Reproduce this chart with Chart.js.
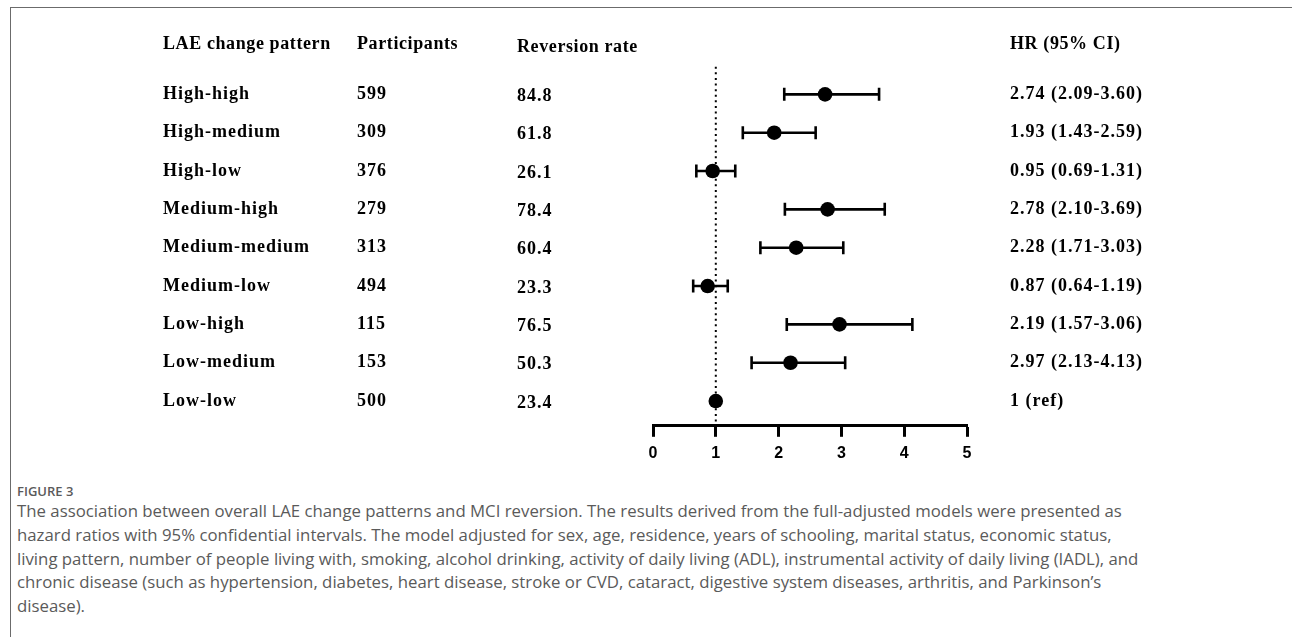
<!DOCTYPE html>
<html>
<head>
<meta charset="utf-8">
<script src="https://cdn.jsdelivr.net/npm/chart.js@4.4.1/dist/chart.umd.min.js"></script>
<style>
  body { margin: 0; background: #fff; width: 1292px; height: 637px; overflow: hidden; position: relative; }
  .frame { position: absolute; left: 10px; top: 7px; width: 1300px; height: 650px;
           border-top: 1.5px solid #6b6b6b; border-left: 1.5px solid #6b6b6b; }
  #plot { position: absolute; left: 0; top: 2px; }
  .fig-label { position: absolute; left: 17px; top: 482px; font-family: "Open Sans", sans-serif;
               font-size: 13px; line-height: 18px; color: #5a5a5a; font-weight: 600; }
  .caption { position: absolute; left: 17px; top: 499px; font-family: "Open Sans", sans-serif;
             font-size: 16.8px; line-height: 23.8px; color: #5a5a5a; white-space: nowrap; }
</style>
</head>
<body>
<div class="frame"></div>
<canvas id="plot" width="1292" height="478"></canvas>
<div class="fig-label">FIGURE 3</div>
<div class="caption">
The association between overall LAE change patterns and MCI reversion. The results derived from the full-adjusted models were presented as<br>
hazard ratios with 95% confidential intervals. The model adjusted for sex, age, residence, years of schooling, marital status, economic status,<br>
living pattern, number of people living with, smoking, alcohol drinking, activity of daily living (ADL), instrumental activity of daily living (IADL), and<br>
chronic disease (such as hypertension, diabetes, heart disease, stroke or CVD, cataract, digestive system diseases, arthritis, and Parkinson’s<br>
disease).
</div>
<script>
// table columns
const headers = ["LAE change pattern", "Participants", "Reversion rate", "HR (95% CI)"];
const patterns = ["High-high", "High-medium", "High-low", "Medium-high", "Medium-medium",
                  "Medium-low", "Low-high", "Low-medium", "Low-low"];
const participants = ["599", "309", "376", "279", "313", "494", "115", "153", "500"];
const reversionRate = ["84.8", "61.8", "26.1", "78.4", "60.4", "23.3", "76.5", "50.3", "23.4"];
const hrLabels = ["2.74 (2.09-3.60)", "1.93 (1.43-2.59)", "0.95 (0.69-1.31)", "2.78 (2.10-3.69)",
                  "2.28 (1.71-3.03)", "0.87 (0.64-1.19)", "2.19 (1.57-3.06)", "2.97 (2.13-4.13)", "1 (ref)"];

// plotted estimates (as drawn in the figure)
const hrPoint = [2.74, 1.93, 0.95, 2.78, 2.28, 0.87, 2.97, 2.19, 1];
const ciLow  = [2.09, 1.43, 0.69, 2.10, 1.71, 0.64, 2.13, 1.57, null];
const ciHigh = [3.60, 2.59, 1.31, 3.69, 3.03, 1.19, 4.13, 3.06, null];
const xTicks = [0, 1, 2, 3, 4, 5];
const refValue = 1;

// row positions in y units (row i sits at y = i)
const headerRow = -1.3;
const refLineTop = -0.72;
const yMin = -1.626, yMax = 8.645;

const points = hrPoint.map((v, i) => ({ x: v, y: i }));

const datasets = [
  {
    label: "HR",
    data: points,
    pointRadius: 7.3,
    pointBackgroundColor: "#000",
    pointBorderWidth: 0,
    showLine: false,
  },
];

ciLow.forEach((lo, i) => {
  if (lo === null) return;
  datasets.push({
    label: "CI " + patterns[i],
    data: [{ x: lo, y: i }, { x: ciHigh[i], y: i }],
    showLine: true,
    borderColor: "#000",
    borderWidth: 2.6,
    pointStyle: "line",
    pointRotation: 90,
    pointRadius: 6.5,
    pointBorderWidth: 2.6,
    pointBorderColor: "#000",
  });
});

datasets.push({
  label: "ref",
  data: [{ x: refValue, y: refLineTop }, { x: refValue, y: yMax }],
  showLine: true,
  borderColor: "#000",
  borderWidth: 2,
  borderDash: [2, 3.6],
  pointRadius: 0,
});

const tableText = {
  id: "tableText",
  afterDraw(chart) {
    const { ctx } = chart;
    const y = chart.scales.y;
    const cols = [163, 357, 517, 1010];
    ctx.save();
    ctx.fillStyle = "#000";
    ctx.textAlign = "left";
    ctx.textBaseline = "middle";
    ctx.font = 'bold 18px "Liberation Serif"';

    ctx.letterSpacing = "0.6px";
    const hy = y.getPixelForValue(headerRow);
    headers.forEach((h, c) => {
      ctx.fillText(h, cols[c], hy + (c === 2 ? 3 : 0));
    });

    ctx.letterSpacing = "1px";
    patterns.forEach((p, i) => {
      const py = y.getPixelForValue(i);
      ctx.fillText(p, cols[0], py);
      ctx.fillText(participants[i], cols[1], py);
      ctx.fillText(reversionRate[i], cols[2], py + 2);
      ctx.fillText(hrLabels[i], cols[3], py);
    });
    ctx.restore();
  },
};

new Chart(document.getElementById("plot"), {
  type: "scatter",
  data: { datasets },
  options: {
    responsive: false,
    animation: false,
    events: [],
    layout: { padding: { left: 653, right: 325, top: 30, bottom: 10 } },
    plugins: { legend: { display: false }, tooltip: { enabled: false } },
    scales: {
      x: {
        type: "linear",
        min: 0,
        max: 5,
        afterBuildTicks: (scale) => { scale.ticks = xTicks.map((v) => ({ value: v })); },
        ticks: { color: "#000", font: { family: "Liberation Sans", size: 16, weight: "bold" }, padding: 7 },
        grid: { drawOnChartArea: false, drawTicks: true, tickLength: 11, tickWidth: 3, tickColor: "#000" },
        border: { display: true, color: "#000", width: 3 },
      },
      y: {
        type: "linear",
        reverse: true,
        min: yMin,
        max: yMax,
        display: false,
      },
    },
  },
  plugins: [tableText],
});
</script>
</body>
</html>
